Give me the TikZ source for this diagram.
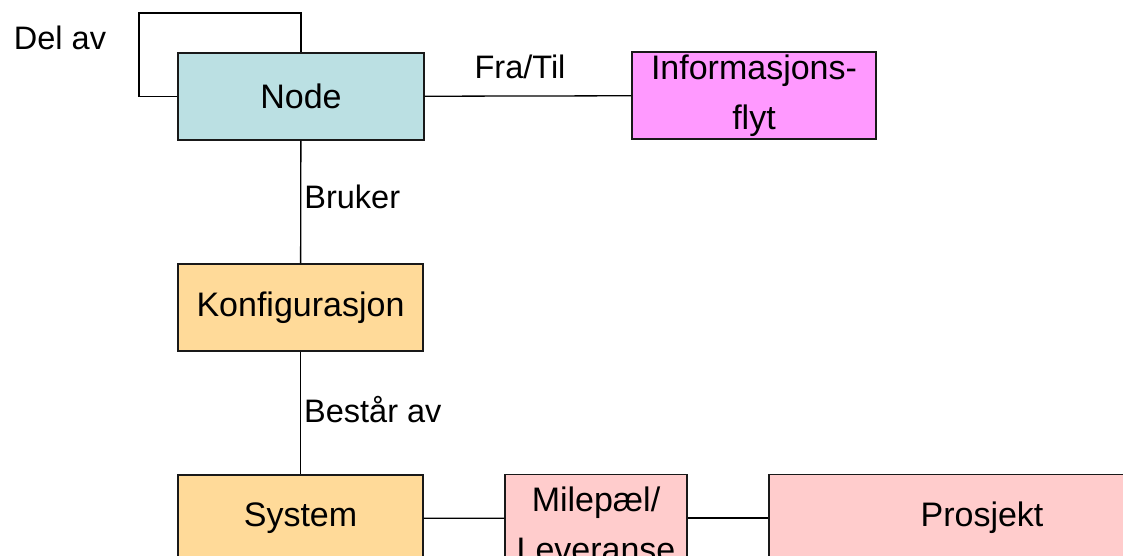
\documentclass[tikz,border=0pt]{standalone}
\usepackage{fontspec}
\setmainfont{Liberation Sans}
\usetikzlibrary{positioning,calc}
\definecolor{nodecyan}{HTML}{BBE0E3}
\definecolor{flytpink}{HTML}{FF99FF}
\definecolor{konforange}{HTML}{FFDA99}
\definecolor{prosjrose}{HTML}{FFCCCC}
\tikzset{boks/.style={draw=black!90,line width=1.4pt,rectangle,minimum height=87,align=center,inner sep=0pt,font=\fontsize{34}{50}\selectfont}}
\tikzset{forbindelse/.style={line width=1.3pt,black}}
\tikzset{etikett/.style={font=\fontsize{32.5}{36}\selectfont,text=black,inner sep=3pt}}

\begin{document}
\begin{tikzpicture}[x=1pt,y=-1pt]
  \useasboundingbox (0,0) rectangle (1123,555);
  \clip (0,0) rectangle (1123,555);

  % Boxes
  \node[boks,fill=nodecyan,minimum width=246] (nodebox) at (301,96.5) {Node};
  \node[boks,fill=flytpink,minimum width=244] (flyt) at (754,95.5) {Informasjons-\\flyt};
  \node[boks,fill=konforange,minimum width=245] (konf) at (300.5,307.5) {Konfigurasjon};
  \node[boks,fill=konforange,minimum width=245] (system) at (300.5,518.5) {System};
  \node[boks,fill=prosjrose,minimum width=182] (milepael) at (596,518) {\rule{0pt}{36.5pt}Milep\ae l/\\Leveranse};
  \node[boks,fill=prosjrose,minimum width=426] (prosjekt) at (982,518) {Prosjekt};

  % Self loop
  \coordinate (loop) at (139,13);
  \draw[forbindelse] (nodebox.west) -| (loop) -| (nodebox.north);
  \node[etikett] (delav) at (60,38) {Del av};

  % Connections
  \draw[forbindelse] (nodebox) -- (flyt) node[etikett,midway,above=14pt,xshift=-8] (fratil) {Fra/Til};
  \draw[forbindelse] (nodebox) -- (konf) node[etikett,midway,right,yshift=5] (bruker) {Bruker};
  \draw[forbindelse] (konf) -- (system) node[etikett,midway,right,yshift=3] (bestar) {Består av};
  \draw[forbindelse] (system) -- (milepael);
  \draw[forbindelse] (milepael) -- (prosjekt);

\end{tikzpicture}
\end{document}
